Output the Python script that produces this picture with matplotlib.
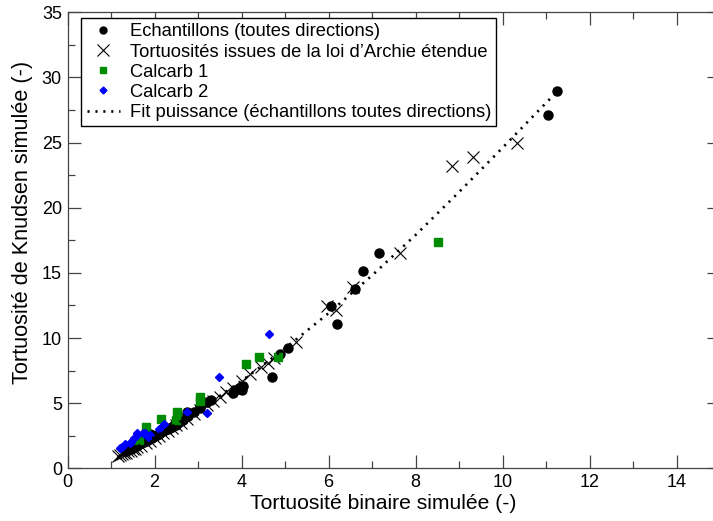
import matplotlib
matplotlib.use("Agg")
import matplotlib.pyplot as plt
from matplotlib.ticker import MultipleLocator

plt.rcParams['font.family'] = ['Liberation Sans', 'DejaVu Sans']

# Echantillons (toutes directions)
ech_x = [1.35, 1.4, 1.45, 1.5, 1.55, 1.6, 1.65, 1.7, 1.75, 1.8, 1.85, 1.9, 1.95, 2.0,
         2.05, 2.1, 2.15, 2.2, 2.25, 2.3, 2.35, 2.4, 2.45, 2.5, 2.55, 2.6, 2.65, 2.78,
         2.74, 2.9, 3.05, 3.05, 3.2, 3.31, 3.8, 3.85, 3.95, 4.04, 4.0, 4.7, 4.89, 5.08,
         6.05, 6.2, 6.61, 6.79, 7.15, 11.05, 11.25, 1.6, 1.9, 2.2, 1.5]
ech_y = [1.3, 1.4, 1.5, 1.55, 1.7, 1.75, 1.85, 1.95, 2.05, 2.1, 2.2, 2.3, 2.35, 2.45,
         2.55, 2.65, 2.75, 2.85, 2.95, 3.0, 3.1, 3.2, 3.3, 3.35, 3.45, 3.6, 3.7, 4.0,
         4.35, 4.3, 4.6, 4.75, 5.1, 5.24, 5.75, 6.01, 6.2, 6.32, 6.0, 7.03, 8.77, 9.21,
         12.45, 11.05, 13.77, 15.14, 16.5, 27.1, 28.95, 2.1, 2.6, 3.1, 1.85]

# Tortuosites issues de la loi d'Archie etendue
arch_x = [1.15, 1.2, 1.25, 1.3, 1.35, 1.4, 1.45, 1.5, 1.55, 1.6, 1.7, 1.8, 1.9, 2.0,
          2.1, 2.2, 2.3, 2.4, 2.5, 2.6, 2.75, 2.9, 3.05, 3.2, 3.35, 3.5, 3.65, 3.8,
          4.0, 4.2, 4.45, 4.6, 4.75, 5.25, 5.97, 6.17, 6.56, 7.64, 8.85, 9.32, 10.33]
arch_y = [0.95, 1.0, 1.1, 1.15, 1.2, 1.3, 1.35, 1.45, 1.5, 1.6, 1.75, 1.95, 2.1, 2.3,
          2.5, 2.7, 2.9, 3.1, 3.3, 3.5, 3.8, 4.2, 4.5, 4.85, 5.15, 5.5, 5.85, 6.2,
          6.7, 7.2, 7.8, 8.1, 8.5, 9.7, 12.45, 12.15, 13.94, 16.5, 23.2, 23.9, 24.99]

# Calcarb 1
c1_x = [1.64, 1.80, 2.15, 2.49, 2.51, 3.05, 3.05, 4.10, 4.41, 4.84, 8.51]
c1_y = [2.17, 3.19, 3.76, 3.71, 4.35, 5.45, 5.2, 8.0, 8.57, 8.52, 17.39]

# Calcarb 2
c2_x = [1.21, 1.25, 1.32, 1.44, 1.47, 1.54, 1.59, 1.6, 1.74, 1.78, 1.86, 1.90,
        2.11, 2.22, 2.74, 3.2, 3.49, 4.64]
c2_y = [1.53, 1.6, 1.86, 1.92, 2.04, 2.3, 2.55, 2.68, 2.68, 2.68, 2.43, 2.55,
        3.03, 3.43, 4.3, 4.27, 6.98, 10.28]

# Fit puissance
fit_x = [1.15, 2.0, 3.0, 4.0, 5.0, 6.0, 7.0, 8.0, 9.0, 10.0, 11.25]
fit_y = [0.85, 2.4, 4.4, 6.7, 9.2, 11.9, 14.8, 17.9, 21.2, 24.6, 28.9]

labels = ["Echantillons (toutes directions)",
          "Tortuosités issues de la loi d\u2019Archie étendue",
          "Calcarb 1", "Calcarb 2",
          "Fit puissance (échantillons toutes directions)"]

W, H = 713, 521
fig = plt.figure(figsize=(W / 100, H / 100), dpi=100)
left, right, bottom, top = 67.5, 720.0, 468.3, 12.3
aw, ah = right - left, bottom - top
ax = fig.add_axes([left / W, 1 - bottom / H, aw / W, ah / H])

ax.plot(ech_x, ech_y, linestyle='none', marker='o', ms=6.5, color='black',
        label=labels[0], zorder=2)
ax.plot(arch_x, arch_y, linestyle='none', marker='x', ms=9, mew=0.8, color='black',
        label=labels[1], zorder=3)
ax.plot(c1_x, c1_y, linestyle='none', marker='s', ms=5.5, color='#008c00',
        label=labels[2], zorder=4)
ax.plot(c2_x, c2_y, linestyle='none', marker='D', ms=4.5, color='#0000ff',
        label=labels[3], zorder=5)
ax.plot(fit_x, fit_y, linestyle=(0, (0.8, 2.2)), lw=1.9, color='black',
        label=labels[4], zorder=6)

ax.set_xlim(0, 15)
ax.set_ylim(0, 35)
ax.xaxis.set_major_locator(MultipleLocator(2))
ax.xaxis.set_minor_locator(MultipleLocator(1))
ax.yaxis.set_major_locator(MultipleLocator(5))
ax.yaxis.set_minor_locator(MultipleLocator(2.5))
ax.tick_params(which='both', direction='in', top=True, right=True, color='#444444',
               width=0.9, labelsize=13)
ax.tick_params(which='major', length=9.5, pad=4)
ax.tick_params(which='minor', length=5)
for s in ax.spines.values():
    s.set_color('#444444')
    s.set_linewidth(0.9)

ax.set_xlabel("Tortuosité binaire simulée (-)", fontsize=15.2)
ax.set_ylabel("Tortuosité de Knudsen simulée (-)", fontsize=15.6)
ax.xaxis.set_label_coords((383 - left) / aw, (bottom - 494) / ah)
ax.yaxis.set_label_coords((33 - left) / aw, (bottom - 222) / ah)

leg = ax.legend(loc='upper left', bbox_to_anchor=((81 - left) / aw, (bottom - 18) / ah),
                fontsize=13.2, frameon=True, fancybox=False, framealpha=1,
                edgecolor='black', borderpad=0.3, labelspacing=0.17,
                handlelength=1.8, handletextpad=0.55, borderaxespad=0)
leg.get_frame().set_linewidth(1.0)
hs = leg.legend_handles
hs[0].set_markersize(5)
hs[2].set_markersize(4.5)
hs[3].set_markersize(3.5)

fig.savefig("out.png", dpi=100)
